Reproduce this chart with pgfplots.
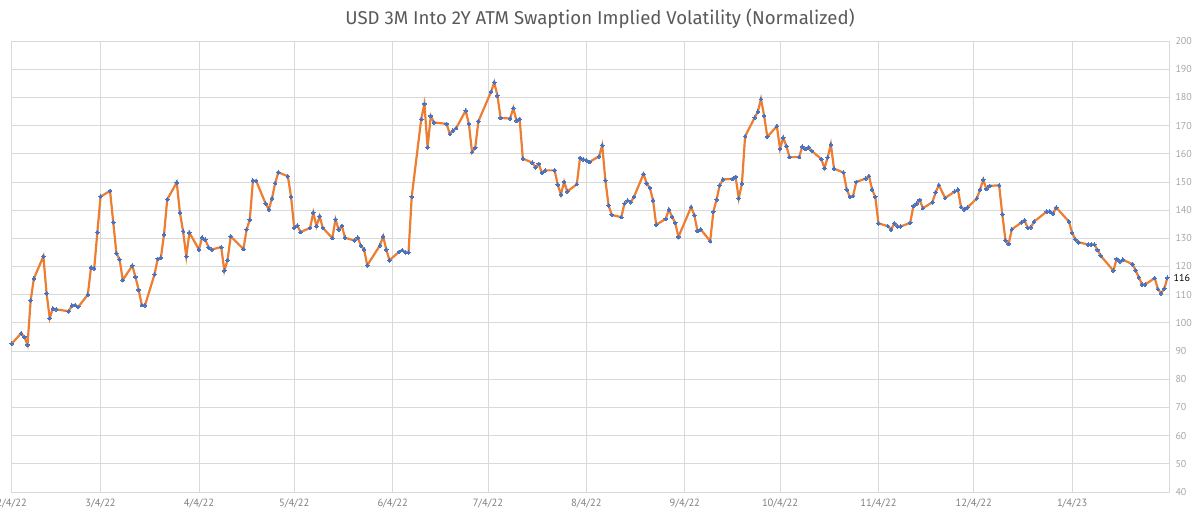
\documentclass[border=0pt]{standalone}
\usepackage{pgfplots}
\pgfplotsset{compat=1.18}
\usepackage{fontspec}
\setmainfont{PT Sans}
\newfontfamily\titlefont{Fira Sans}
\definecolor{lineor}{HTML}{ED7D31}
\definecolor{markbl}{HTML}{4472C4}
\definecolor{gridgray}{HTML}{D9D9D9}
\definecolor{titlegray}{HTML}{595959}
\definecolor{xtickgray}{HTML}{7F7F7F}
\definecolor{ytickgray}{HTML}{A6A6A6}
\begin{document}
\begin{tikzpicture}[x=1pt,y=1pt]
\path[use as bounding box] (0,0) rectangle (1200,517);
\begin{axis}[
  at={(11pt,25pt)}, anchor=south west,
  width=1158pt, height=451pt, scale only axis,
  xmin=-0.2, xmax=364.5, ymin=40, ymax=200,
  ytick={40,50,...,200},
  yticklabel pos=right,
  xtick={0,28,59,89,120,150,181,212,242,273,303,334},
  xticklabels={2/4/22,3/4/22,4/4/22,5/4/22,6/4/22,7/4/22,8/4/22,9/4/22,10/4/22,11/4/22,12/4/22,1/4/23},
  grid=major,
  major grid style={draw=gridgray, line width=0.8pt},
  axis line style={draw=gridgray, line width=0.8pt},
  tick style={draw=none},
  /pgf/number format/assume math mode=true,
  xticklabel style={font=\fontsize{10.5}{12}\selectfont, text=xtickgray, yshift=-3pt},
  yticklabel style={font=\fontsize{10}{12}\selectfont, text=ytickgray, xshift=3pt},
  clip=false,
]
\addplot[color=lineor, line width=2.2pt, mark=*, mark size=1.8pt,
  mark options={draw=markbl, fill=markbl, line width=0pt}] table {
x y
0 92.6
3 96.3
4 95.0
5 92.2
6 108.0
7 115.7
10 123.6
11 110.5
12 101.7
13 105.1
14 104.8
18 104.1
19 106.2
20 106.3
21 105.7
24 110.0
25 119.7
26 119.3
27 132.1
28 144.8
31 146.8
32 135.7
33 124.7
34 122.5
35 115.2
38 120.3
39 116.3
40 111.7
41 106.3
42 106.2
45 117.2
46 122.7
47 123.1
48 131.4
49 143.8
52 149.8
53 139.1
54 132.5
55 123.6
56 132.0
59 126.0
60 130.3
61 129.5
62 126.8
63 126.0
66 126.9
67 118.5
68 122.3
69 130.7
73 126.2
74 133.1
75 136.6
76 150.5
77 150.4
80 142.3
81 140.2
82 144.2
83 149.6
84 153.4
87 152.0
88 144.7
89 133.7
90 134.5
91 132.2
94 133.7
95 139.1
96 134.3
97 137.8
98 133.7
101 130.1
102 136.7
103 133.1
104 134.4
105 130.2
108 129.2
109 130.2
110 127.4
111 126.1
112 120.4
116 127.5
117 130.7
118 126.0
119 122.2
122 125.2
123 125.8
124 125.0
125 125.0
126 144.7
129 172.3
130 177.7
131 162.3
132 173.4
133 171.1
137 170.6
138 167.0
139 168.2
140 169.1
143 175.3
144 170.6
145 160.6
146 162.1
147 171.5
151 182.0
152 185.3
153 180.6
154 172.7
157 172.5
158 176.2
159 171.7
160 172.3
161 158.3
164 156.8
165 155.2
166 156.4
167 153.2
168 154.1
171 154.1
172 149.0
173 145.5
174 150.0
175 146.6
178 149.2
179 158.5
180 158.0
181 157.7
182 157.1
185 159.1
186 163.0
187 150.5
188 141.7
189 138.3
192 137.5
193 142.3
194 143.4
195 142.8
196 144.7
199 152.8
200 149.5
201 147.9
202 143.5
203 134.8
206 136.9
207 140.2
208 137.6
209 135.5
210 130.5
214 141.1
215 138.2
216 132.6
217 133.2
220 129.0
221 139.4
222 143.7
223 148.8
224 150.9
227 151.1
228 151.8
229 144.2
230 149.4
231 166.2
234 172.8
235 174.9
236 179.4
237 173.4
238 166.0
241 169.8
242 161.7
243 165.7
244 162.7
245 158.8
248 158.8
249 162.5
250 161.7
251 162.3
252 161.0
255 158.1
256 154.9
257 158.7
258 163.3
259 154.7
262 153.3
263 147.3
264 144.7
265 145.0
266 150.0
269 151.2
270 152.1
271 147.3
272 144.7
273 135.3
276 134.3
277 133.1
278 135.3
279 134.2
280 134.2
283 135.5
284 141.5
285 142.3
286 143.6
287 140.7
290 142.8
291 146.3
292 148.9
294 144.3
297 146.6
298 147.3
299 141.1
300 140.2
301 140.9
304 144.2
305 147.3
306 150.8
307 147.5
308 148.6
311 148.8
312 138.5
313 129.3
314 128.0
315 133.2
318 135.6
319 136.4
320 133.7
321 133.9
322 135.9
326 139.5
327 139.5
328 138.8
329 140.9
333 135.9
334 131.9
335 129.6
336 128.6
339 127.8
340 127.8
341 127.8
342 125.9
343 123.8
347 118.5
348 122.7
349 121.8
350 122.4
353 120.8
354 118.6
355 116.2
356 113.6
357 113.6
360 115.9
361 112.0
362 110.5
363 112.1
364 116.0
};
\node[anchor=west, font=\fontsize{10}{12}\selectfont, text=black, inner sep=0pt, xshift=6pt] at (axis cs:364,116) {116};
\end{axis}
\node[font=\titlefont\fontsize{18.6}{21}\selectfont, text=titlegray] at (600,498) {USD 3M Into 2Y ATM Swaption Implied Volatility (Normalized)};
\end{tikzpicture}
\end{document}
